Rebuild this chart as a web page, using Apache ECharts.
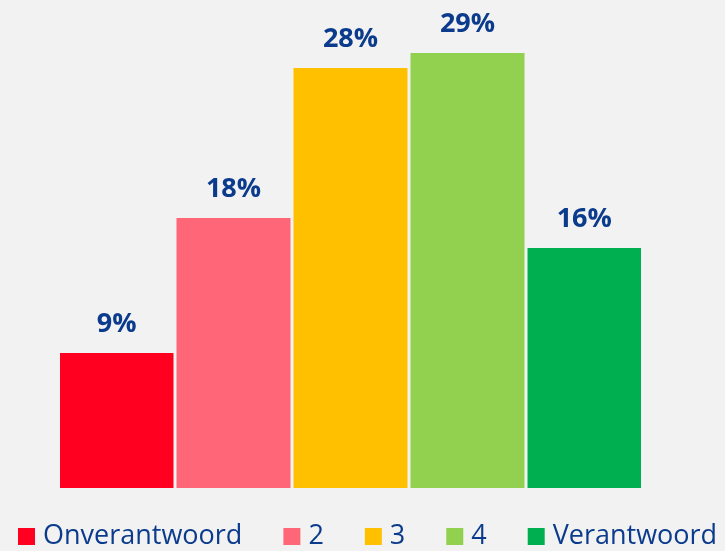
<!DOCTYPE html>
<html>
<head>
<meta charset="utf-8">
<script src="https://cdn.jsdelivr.net/npm/echarts@6/dist/echarts.min.js"></script>
<style>
html, body { margin: 0; padding: 0; background: #f2f2f2; }
#main { width: 725px; height: 551px; }
</style>
</head>
<body>
<div id="main"></div>
<script>
// data
var names = ['Onverantwoord', '2', '3', '4', 'Verantwoord'];
var values = [9, 18, 28, 29, 16];
var colors = ['#ff0021', '#ff6677', '#ffc000', '#92d050', '#00b050'];

var chartDom = document.getElementById('main');
var myChart = echarts.init(chartDom);
var option;

var series = names.map(function (name, i) {
    return {
        name: name,
        type: 'bar',
        data: [values[i]],
        barWidth: 114,
        barGap: '2.63%',
        itemStyle: { color: colors[i] },
        label: {
            show: true,
            position: 'top',
            distance: 15,
            formatter: '{c}%',
            color: '#0b3b8c',
            fontFamily: 'Open Sans',
            fontWeight: 'bold',
            fontSize: 27
        }
    };
});

option = {
    backgroundColor: '#f2f2f2',
    animation: false,
    grid: { left: 60, right: 84, top: 38, bottom: 63 },
    xAxis: {
        type: 'category',
        data: [''],
        show: false
    },
    yAxis: {
        type: 'value',
        min: 0,
        max: 30,
        show: false
    },
    legend: {
        left: 18,
        top: 523,
        padding: 0,
        itemWidth: 17,
        itemHeight: 17,
        itemGap: 41,
        icon: 'rect',
        textStyle: {
            color: '#0b3b8c',
            fontFamily: 'Open Sans',
            fontSize: 27,
            padding: [0, 0, 0, 3]
        },
        data: names
    },
    series: series
};
option && myChart.setOption(option);
</script>
</body>
</html>
